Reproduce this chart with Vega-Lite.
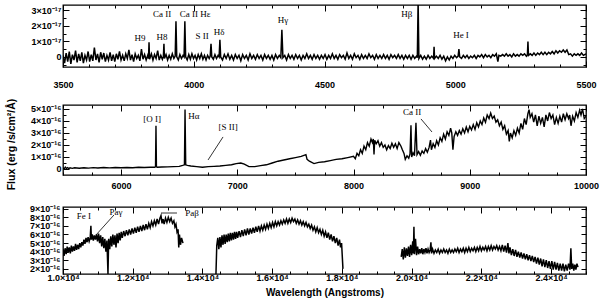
{
"$schema":"https://vega.github.io/schema/vega-lite/v6.json",
"padding":{"left":5,"top":3,"right":5,"bottom":3},
"background":"white",
"config":{"view":{"stroke":"black","strokeWidth":1.3},
"axis":{"domain":false,"grid":false,"labelFont":"Liberation Sans","labelFontWeight":"bold","labelFontSize":9,"labelColor":"black","tickColor":"black","tickWidth":1,"titleFont":"Liberation Sans","titleFontWeight":"bold","titleFontSize":10,"titleColor":"black","labelOverlap":false,"labelFlush":false},
"text":{"font":"Liberation Serif","fontSize":9,"color":"black"}},
"datasets":{
"s1":[{"w":3500,"f":0.1},{"w":3506,"f":-0.4},{"w":3512,"f":0.25},{"w":3518,"f":-0.3},{"w":3524,"f":0.35},{"w":3530,"f":-0.45},{"w":3536,"f":0.15},{"w":3542,"f":-0.2},{"w":3548,"f":0.4},{"w":3554,"f":-0.35},{"w":3560,"f":0.2},{"w":3566,"f":-0.25},{"w":3572,"f":0.3},{"w":3578,"f":-0.4},{"w":3584,"f":0.1},{"w":3590,"f":-0.2},{"w":3596,"f":0.35},{"w":3602,"f":-0.3},{"w":3608,"f":0.15},{"w":3614,"f":-0.25},{"w":3620,"f":0.6},{"w":3626,"f":-0.2},{"w":3632,"f":0.2},{"w":3638,"f":-0.35},{"w":3644,"f":0.3},{"w":3650,"f":-0.15},{"w":3656,"f":0.25},{"w":3662,"f":-0.3},{"w":3668,"f":0.1},{"w":3674,"f":-0.2},{"w":3680,"f":0.3},{"w":3686,"f":-0.25},{"w":3692,"f":0.15},{"w":3698,"f":-0.3},{"w":3704,"f":0.2},{"w":3710,"f":-0.15},{"w":3716,"f":0.35},{"w":3722,"f":-0.2},{"w":3728,"f":0.1},{"w":3734,"f":-0.25},{"w":3740,"f":0.2},{"w":3746,"f":-0.1},{"w":3752,"f":0.45},{"w":3758,"f":-0.2},{"w":3764,"f":0.15},{"w":3770,"f":-0.3},{"w":3776,"f":0.2},{"w":3782,"f":-0.1},{"w":3788,"f":0.1},{"w":3794,"f":-0.25},{"w":3800,"f":0.5},{"w":3806,"f":-0.15},{"w":3812,"f":0.15},{"w":3818,"f":-0.2},{"w":3824,"f":0.1},{"w":3827,"f":-0.1},{"w":3829,"f":0.95},{"w":3831,"f":-0.15},{"w":3838,"f":0.2},{"w":3844,"f":-0.2},{"w":3850,"f":0.15},{"w":3856,"f":-0.1},{"w":3862,"f":0.4},{"w":3868,"f":-0.2},{"w":3874,"f":0.1},{"w":3880,"f":-0.15},{"w":3884,"f":0.05},{"w":3886,"f":0.85},{"w":3888,"f":-0.1},{"w":3894,"f":0.15},{"w":3900,"f":-0.2},{"w":3906,"f":0.1},{"w":3912,"f":-0.15},{"w":3918,"f":0.2},{"w":3924,"f":-0.1},{"w":3929,"f":0.05},{"w":3932,"f":2.3},{"w":3935,"f":0.0},{"w":3941,"f":-0.2},{"w":3947,"f":0.15},{"w":3953,"f":-0.1},{"w":3959,"f":0.1},{"w":3963,"f":0.0},{"w":3966,"f":2.3},{"w":3969,"f":0.0},{"w":3975,"f":-0.2},{"w":3981,"f":0.15},{"w":3987,"f":-0.15},{"w":3993,"f":0.2},{"w":3999,"f":-0.1},{"w":4005,"f":0.1},{"w":4011,"f":-0.2},{"w":4017,"f":0.15},{"w":4023,"f":-0.1},{"w":4029,"f":0.2},{"w":4035,"f":-0.15},{"w":4041,"f":0.1},{"w":4047,"f":-0.2},{"w":4053,"f":0.1},{"w":4059,"f":-0.1},{"w":4063,"f":0.05},{"w":4066,"f":0.85},{"w":4069,"f":0.0},{"w":4075,"f":-0.15},{"w":4081,"f":0.15},{"w":4087,"f":-0.1},{"w":4093,"f":0.1},{"w":4097,"f":0.0},{"w":4100,"f":1.1},{"w":4103,"f":0.0},{"w":4110,"f":-0.2},{"w":4117,"f":0.15},{"w":4124,"f":-0.1},{"w":4131,"f":0.2},{"w":4138,"f":-0.15},{"w":4145,"f":0.1},{"w":4152,"f":-0.2},{"w":4159,"f":0.15},{"w":4166,"f":-0.1},{"w":4173,"f":0.1},{"w":4180,"f":-0.25},{"w":4187,"f":0.15},{"w":4194,"f":-0.1},{"w":4201,"f":0.1},{"w":4208,"f":-0.2},{"w":4215,"f":0.2},{"w":4222,"f":-0.1},{"w":4229,"f":0.1},{"w":4236,"f":-0.15},{"w":4243,"f":0.15},{"w":4250,"f":-0.1},{"w":4257,"f":0.1},{"w":4264,"f":-0.2},{"w":4271,"f":0.15},{"w":4278,"f":-0.1},{"w":4285,"f":0.1},{"w":4292,"f":-0.15},{"w":4299,"f":0.1},{"w":4306,"f":-0.2},{"w":4313,"f":0.15},{"w":4320,"f":-0.1},{"w":4327,"f":0.1},{"w":4333,"f":-0.05},{"w":4337,"f":1.75},{"w":4341,"f":-0.05},{"w":4348,"f":0.1},{"w":4355,"f":-0.2},{"w":4362,"f":0.15},{"w":4369,"f":-0.1},{"w":4376,"f":0.1},{"w":4383,"f":-0.15},{"w":4390,"f":0.15},{"w":4397,"f":-0.1},{"w":4404,"f":0.1},{"w":4411,"f":-0.2},{"w":4418,"f":0.1},{"w":4425,"f":-0.1},{"w":4432,"f":0.2},{"w":4439,"f":-0.1},{"w":4446,"f":0.1},{"w":4453,"f":-0.15},{"w":4460,"f":0.15},{"w":4467,"f":-0.1},{"w":4474,"f":0.1},{"w":4481,"f":-0.15},{"w":4488,"f":0.1},{"w":4495,"f":-0.1},{"w":4502,"f":0.15},{"w":4509,"f":-0.15},{"w":4516,"f":0.1},{"w":4523,"f":-0.1},{"w":4530,"f":0.2},{"w":4537,"f":-0.1},{"w":4544,"f":0.1},{"w":4551,"f":-0.15},{"w":4558,"f":0.15},{"w":4565,"f":-0.05},{"w":4572,"f":0.1},{"w":4579,"f":-0.15},{"w":4586,"f":0.25},{"w":4593,"f":-0.1},{"w":4600,"f":0.1},{"w":4607,"f":-0.15},{"w":4614,"f":0.2},{"w":4621,"f":-0.05},{"w":4628,"f":0.1},{"w":4635,"f":-0.15},{"w":4642,"f":0.15},{"w":4649,"f":-0.1},{"w":4656,"f":0.1},{"w":4663,"f":-0.1},{"w":4670,"f":0.2},{"w":4677,"f":-0.05},{"w":4684,"f":0.1},{"w":4691,"f":-0.15},{"w":4698,"f":0.15},{"w":4705,"f":-0.1},{"w":4712,"f":0.1},{"w":4719,"f":-0.1},{"w":4726,"f":0.15},{"w":4733,"f":-0.1},{"w":4740,"f":0.1},{"w":4747,"f":-0.15},{"w":4754,"f":0.15},{"w":4761,"f":-0.05},{"w":4768,"f":0.1},{"w":4775,"f":-0.1},{"w":4782,"f":0.15},{"w":4789,"f":-0.1},{"w":4796,"f":0.1},{"w":4803,"f":-0.15},{"w":4810,"f":0.1},{"w":4817,"f":-0.1},{"w":4824,"f":0.1},{"w":4831,"f":-0.15},{"w":4838,"f":0.1},{"w":4845,"f":-0.1},{"w":4852,"f":0.05},{"w":4855,"f":-0.05},{"w":4858,"f":3.6},{"w":4861,"f":-0.1},{"w":4868,"f":0.1},{"w":4875,"f":-0.15},{"w":4882,"f":0.05},{"w":4889,"f":-0.15},{"w":4896,"f":0.1},{"w":4903,"f":-0.1},{"w":4910,"f":0.05},{"w":4917,"f":-0.1},{"w":4919,"f":0.65},{"w":4921,"f":-0.1},{"w":4928,"f":0.05},{"w":4935,"f":-0.1},{"w":4942,"f":0.1},{"w":4949,"f":-0.15},{"w":4956,"f":0.05},{"w":4963,"f":-0.25},{"w":4970,"f":0.0},{"w":4977,"f":-0.2},{"w":4984,"f":0.05},{"w":4991,"f":-0.1},{"w":4998,"f":0.1},{"w":5005,"f":-0.05},{"w":5011,"f":0.05},{"w":5014,"f":0.5},{"w":5017,"f":0.0},{"w":5024,"f":-0.1},{"w":5031,"f":0.1},{"w":5038,"f":-0.05},{"w":5045,"f":0.1},{"w":5052,"f":-0.1},{"w":5059,"f":0.05},{"w":5066,"f":-0.05},{"w":5073,"f":0.1},{"w":5080,"f":-0.1},{"w":5087,"f":0.1},{"w":5094,"f":0.0},{"w":5101,"f":0.15},{"w":5108,"f":-0.05},{"w":5115,"f":0.15},{"w":5122,"f":0.0},{"w":5129,"f":0.1},{"w":5136,"f":-0.05},{"w":5143,"f":0.15},{"w":5150,"f":0.05},{"w":5157,"f":0.2},{"w":5163,"f":-0.3},{"w":5167,"f":0.1},{"w":5174,"f":0.05},{"w":5181,"f":0.15},{"w":5188,"f":0.05},{"w":5195,"f":0.2},{"w":5202,"f":0.05},{"w":5209,"f":0.15},{"w":5216,"f":0.0},{"w":5223,"f":0.2},{"w":5230,"f":0.05},{"w":5237,"f":0.15},{"w":5244,"f":0.05},{"w":5251,"f":0.2},{"w":5258,"f":0.1},{"w":5265,"f":0.2},{"w":5272,"f":0.05},{"w":5276,"f":0.15},{"w":5278,"f":1.0},{"w":5280,"f":0.1},{"w":5287,"f":0.2},{"w":5294,"f":0.1},{"w":5301,"f":0.25},{"w":5308,"f":0.1},{"w":5315,"f":0.25},{"w":5322,"f":0.15},{"w":5329,"f":0.3},{"w":5336,"f":0.15},{"w":5343,"f":0.3},{"w":5350,"f":0.15},{"w":5357,"f":0.3},{"w":5364,"f":0.2},{"w":5371,"f":0.35},{"w":5378,"f":0.2},{"w":5385,"f":0.4},{"w":5392,"f":0.25},{"w":5399,"f":0.4},{"w":5406,"f":0.3},{"w":5413,"f":0.45},{"w":5420,"f":0.3},{"w":5427,"f":0.45},{"w":5434,"f":0.15},{"w":5441,"f":0.2},{"w":5448,"f":0.05},{"w":5455,"f":0.2},{"w":5462,"f":0.1},{"w":5469,"f":0.2},{"w":5476,"f":0.1},{"w":5483,"f":0.25},{"w":5490,"f":0.1},{"w":5500,"f":0.2}],
"s2":[{"w":5500,"f":0.1},{"w":5510,"f":0.0},{"w":5520,"f":0.15},{"w":5530,"f":0.05},{"w":5540,"f":0.12},{"w":5550,"f":0.02},{"w":5560,"f":0.1},{"w":5580,"f":0.05},{"w":5600,"f":0.1},{"w":5640,"f":0.06},{"w":5680,"f":0.1},{"w":5720,"f":0.07},{"w":5760,"f":0.11},{"w":5800,"f":0.08},{"w":5850,"f":0.12},{"w":5900,"f":0.09},{"w":5950,"f":0.12},{"w":6000,"f":0.1},{"w":6050,"f":0.13},{"w":6100,"f":0.1},{"w":6150,"f":0.14},{"w":6200,"f":0.12},{"w":6250,"f":0.15},{"w":6290,"f":0.15},{"w":6296,"f":0.2},{"w":6300,"f":3.6},{"w":6304,"f":0.2},{"w":6310,"f":0.15},{"w":6350,"f":0.17},{"w":6400,"f":0.18},{"w":6450,"f":0.2},{"w":6500,"f":0.22},{"w":6530,"f":0.3},{"w":6545,"f":0.35},{"w":6550,"f":4.95},{"w":6556,"f":0.35},{"w":6570,"f":0.3},{"w":6600,"f":0.25},{"w":6650,"f":0.2},{"w":6700,"f":0.15},{"w":6750,"f":0.2},{"w":6800,"f":0.22},{"w":6850,"f":0.25},{"w":6900,"f":0.3},{"w":6950,"f":0.35},{"w":6990,"f":0.45},{"w":7030,"f":0.5},{"w":7060,"f":0.4},{"w":7100,"f":0.2},{"w":7150,"f":0.2},{"w":7200,"f":0.28},{"w":7250,"f":0.35},{"w":7300,"f":0.5},{"w":7350,"f":0.65},{"w":7400,"f":0.75},{"w":7450,"f":0.85},{"w":7500,"f":0.95},{"w":7550,"f":1.05},{"w":7590,"f":1.2},{"w":7600,"f":0.8},{"w":7620,"f":0.65},{"w":7660,"f":0.45},{"w":7700,"f":0.55},{"w":7750,"f":0.6},{"w":7800,"f":0.7},{"w":7850,"f":0.8},{"w":7900,"f":0.85},{"w":7950,"f":0.95},{"w":8000,"f":1.05},{"w":8015,"f":0.85},{"w":8030,"f":1.3},{"w":8045,"f":1.1},{"w":8060,"f":1.6},{"w":8075,"f":1.3},{"w":8090,"f":1.9},{"w":8105,"f":1.6},{"w":8120,"f":2.2},{"w":8135,"f":1.9},{"w":8150,"f":2.5},{"w":8162,"f":2.2},{"w":8170,"f":2.5},{"w":8176,"f":1.2},{"w":8182,"f":2.4},{"w":8195,"f":2.1},{"w":8210,"f":2.35},{"w":8225,"f":1.9},{"w":8240,"f":2.2},{"w":8255,"f":1.8},{"w":8270,"f":2.0},{"w":8285,"f":1.6},{"w":8300,"f":1.95},{"w":8315,"f":1.7},{"w":8330,"f":2.15},{"w":8345,"f":1.8},{"w":8360,"f":2.1},{"w":8375,"f":1.7},{"w":8390,"f":2.2},{"w":8408,"f":1.9},{"w":8420,"f":1.6},{"w":8434,"f":1.3},{"w":8445,"f":0.8},{"w":8460,"f":1.1},{"w":8475,"f":0.9},{"w":8486,"f":1.25},{"w":8494,"f":3.65},{"w":8500,"f":1.0},{"w":8512,"f":1.35},{"w":8524,"f":1.1},{"w":8537,"f":3.85},{"w":8546,"f":1.2},{"w":8560,"f":1.45},{"w":8575,"f":1.15},{"w":8590,"f":1.5},{"w":8605,"f":1.3},{"w":8620,"f":1.7},{"w":8635,"f":1.4},{"w":8650,"f":1.8},{"w":8662,"f":2.4},{"w":8670,"f":1.6},{"w":8685,"f":2.1},{"w":8700,"f":1.8},{"w":8715,"f":2.35},{"w":8730,"f":2.0},{"w":8745,"f":2.6},{"w":8760,"f":2.3},{"w":8775,"f":2.9},{"w":8790,"f":2.5},{"w":8805,"f":3.1},{"w":8820,"f":2.8},{"w":8835,"f":3.4},{"w":8845,"f":3.0},{"w":8855,"f":1.6},{"w":8865,"f":2.7},{"w":8880,"f":3.1},{"w":8895,"f":2.8},{"w":8910,"f":3.2},{"w":8925,"f":2.9},{"w":8940,"f":3.35},{"w":8955,"f":3.0},{"w":8970,"f":3.5},{"w":8985,"f":3.1},{"w":9000,"f":3.55},{"w":9015,"f":3.25},{"w":9030,"f":3.7},{"w":9045,"f":3.3},{"w":9060,"f":3.85},{"w":9075,"f":3.5},{"w":9090,"f":4.0},{"w":9105,"f":3.7},{"w":9120,"f":4.25},{"w":9135,"f":3.9},{"w":9150,"f":4.5},{"w":9166,"f":4.2},{"w":9180,"f":4.65},{"w":9195,"f":4.2},{"w":9210,"f":4.4},{"w":9225,"f":3.9},{"w":9240,"f":4.1},{"w":9255,"f":3.6},{"w":9270,"f":3.9},{"w":9285,"f":3.3},{"w":9300,"f":3.6},{"w":9315,"f":2.9},{"w":9330,"f":3.2},{"w":9340,"f":2.3},{"w":9350,"f":3.0},{"w":9365,"f":2.6},{"w":9380,"f":3.2},{"w":9395,"f":2.8},{"w":9410,"f":3.4},{"w":9425,"f":3.0},{"w":9440,"f":3.8},{"w":9455,"f":3.3},{"w":9470,"f":4.2},{"w":9485,"f":3.7},{"w":9500,"f":4.6},{"w":9510,"f":4.95},{"w":9520,"f":4.3},{"w":9535,"f":4.6},{"w":9550,"f":3.9},{"w":9565,"f":4.5},{"w":9580,"f":3.6},{"w":9595,"f":4.4},{"w":9610,"f":3.8},{"w":9625,"f":4.3},{"w":9640,"f":3.5},{"w":9655,"f":4.5},{"w":9670,"f":4.0},{"w":9685,"f":4.7},{"w":9700,"f":4.2},{"w":9715,"f":4.5},{"w":9730,"f":3.7},{"w":9745,"f":4.3},{"w":9760,"f":3.8},{"w":9775,"f":4.4},{"w":9790,"f":3.9},{"w":9805,"f":4.6},{"w":9820,"f":4.1},{"w":9835,"f":4.6},{"w":9850,"f":4.2},{"w":9860,"f":4.5},{"w":9871,"f":3.6},{"w":9885,"f":4.4},{"w":9900,"f":4.0},{"w":9915,"f":4.7},{"w":9930,"f":4.3},{"w":9945,"f":4.9},{"w":9957,"f":4.5},{"w":9970,"f":5.0},{"w":9985,"f":4.2},{"w":10000,"f":4.4}],
"s3":[{"s":1,"w":10000,"f":4.3},{"s":1,"w":10030,"f":3.5},{"s":1,"w":10060,"f":4.4},{"s":1,"w":10090,"f":3.7},{"s":1,"w":10120,"f":4.6},{"s":1,"w":10150,"f":3.9},{"s":1,"w":10180,"f":4.5},{"s":1,"w":10210,"f":3.8},{"s":1,"w":10240,"f":4.7},{"s":1,"w":10270,"f":4.0},{"s":1,"w":10300,"f":4.6},{"s":1,"w":10330,"f":4.1},{"s":1,"w":10360,"f":4.9},{"s":1,"w":10390,"f":4.2},{"s":1,"w":10420,"f":4.8},{"s":1,"w":10450,"f":4.3},{"s":1,"w":10480,"f":5.0},{"s":1,"w":10510,"f":4.5},{"s":1,"w":10540,"f":5.1},{"s":1,"w":10570,"f":4.7},{"s":1,"w":10600,"f":5.4},{"s":1,"w":10630,"f":4.9},{"s":1,"w":10660,"f":5.6},{"s":1,"w":10690,"f":5.1},{"s":1,"w":10720,"f":5.7},{"s":1,"w":10750,"f":5.2},{"s":1,"w":10780,"f":5.6},{"s":1,"w":10800,"f":7.0},{"s":1,"w":10815,"f":5.4},{"s":1,"w":10840,"f":6.0},{"s":1,"w":10870,"f":5.3},{"s":1,"w":10900,"f":5.9},{"s":1,"w":10930,"f":5.4},{"s":1,"w":10960,"f":6.0},{"s":1,"w":10990,"f":5.2},{"s":1,"w":11020,"f":6.1},{"s":1,"w":11050,"f":5.0},{"s":1,"w":11080,"f":5.9},{"s":1,"w":11110,"f":4.6},{"s":1,"w":11140,"f":5.7},{"s":1,"w":11170,"f":4.4},{"s":1,"w":11200,"f":5.5},{"s":1,"w":11230,"f":4.0},{"s":1,"w":11260,"f":5.3},{"s":1,"w":11290,"f":1.4},{"s":1,"w":11310,"f":5.5},{"s":1,"w":11340,"f":4.3},{"s":1,"w":11370,"f":5.8},{"s":1,"w":11400,"f":4.6},{"s":1,"w":11430,"f":6.0},{"s":1,"w":11460,"f":4.8},{"s":1,"w":11490,"f":5.9},{"s":1,"w":11520,"f":4.5},{"s":1,"w":11550,"f":6.1},{"s":1,"w":11580,"f":5.0},{"s":1,"w":11610,"f":6.2},{"s":1,"w":11640,"f":5.3},{"s":1,"w":11670,"f":6.3},{"s":1,"w":11700,"f":5.6},{"s":1,"w":11740,"f":6.4},{"s":1,"w":11780,"f":5.8},{"s":1,"w":11820,"f":6.5},{"s":1,"w":11860,"f":5.9},{"s":1,"w":11900,"f":6.6},{"s":1,"w":11940,"f":6.0},{"s":1,"w":11980,"f":6.7},{"s":1,"w":12020,"f":6.1},{"s":1,"w":12060,"f":6.8},{"s":1,"w":12100,"f":6.2},{"s":1,"w":12140,"f":6.9},{"s":1,"w":12180,"f":6.3},{"s":1,"w":12220,"f":7.0},{"s":1,"w":12260,"f":6.4},{"s":1,"w":12300,"f":7.1},{"s":1,"w":12340,"f":6.5},{"s":1,"w":12380,"f":7.2},{"s":1,"w":12420,"f":6.6},{"s":1,"w":12460,"f":7.3},{"s":1,"w":12500,"f":6.8},{"s":1,"w":12540,"f":7.5},{"s":1,"w":12580,"f":7.0},{"s":1,"w":12620,"f":7.6},{"s":1,"w":12660,"f":7.1},{"s":1,"w":12700,"f":7.8},{"s":1,"w":12740,"f":7.2},{"s":1,"w":12780,"f":7.9},{"s":1,"w":12810,"f":8.2},{"s":1,"w":12840,"f":7.3},{"s":1,"w":12870,"f":7.8},{"s":1,"w":12900,"f":7.2},{"s":1,"w":12940,"f":7.9},{"s":1,"w":12980,"f":7.4},{"s":1,"w":13020,"f":8.0},{"s":1,"w":13060,"f":7.5},{"s":1,"w":13100,"f":7.9},{"s":1,"w":13140,"f":7.3},{"s":1,"w":13180,"f":7.6},{"s":1,"w":13210,"f":6.9},{"s":1,"w":13240,"f":7.2},{"s":1,"w":13270,"f":6.3},{"s":1,"w":13300,"f":6.6},{"s":1,"w":13320,"f":4.5},{"s":1,"w":13340,"f":6.0},{"s":1,"w":13370,"f":4.8},{"s":1,"w":13400,"f":5.6},{"s":1,"w":13441,"f":5.0},
{"s":2,"w":14387,"f":1.4},{"s":2,"w":14410,"f":4.7},{"s":2,"w":14440,"f":5.6},{"s":2,"w":14470,"f":4.3},{"s":2,"w":14500,"f":5.7},{"s":2,"w":14530,"f":4.5},{"s":2,"w":14560,"f":5.9},{"s":2,"w":14590,"f":4.8},{"s":2,"w":14620,"f":6.0},{"s":2,"w":14650,"f":4.9},{"s":2,"w":14680,"f":6.0},{"s":2,"w":14710,"f":5.1},{"s":2,"w":14740,"f":6.1},{"s":2,"w":14770,"f":5.2},{"s":2,"w":14800,"f":6.2},{"s":2,"w":14830,"f":5.3},{"s":2,"w":14860,"f":6.2},{"s":2,"w":14890,"f":5.4},{"s":2,"w":14920,"f":6.3},{"s":2,"w":14950,"f":5.5},{"s":2,"w":14980,"f":6.3},{"s":2,"w":15010,"f":5.6},{"s":2,"w":15050,"f":6.4},{"s":2,"w":15090,"f":5.7},{"s":2,"w":15130,"f":6.5},{"s":2,"w":15170,"f":5.8},{"s":2,"w":15210,"f":6.6},{"s":2,"w":15250,"f":5.9},{"s":2,"w":15290,"f":6.7},{"s":2,"w":15330,"f":6.0},{"s":2,"w":15370,"f":6.7},{"s":2,"w":15410,"f":6.1},{"s":2,"w":15450,"f":6.8},{"s":2,"w":15490,"f":6.2},{"s":2,"w":15530,"f":6.9},{"s":2,"w":15570,"f":6.3},{"s":2,"w":15610,"f":7.0},{"s":2,"w":15650,"f":6.4},{"s":2,"w":15690,"f":7.0},{"s":2,"w":15730,"f":6.5},{"s":2,"w":15770,"f":7.1},{"s":2,"w":15810,"f":6.6},{"s":2,"w":15850,"f":7.2},{"s":2,"w":15890,"f":6.7},{"s":2,"w":15930,"f":7.3},{"s":2,"w":15970,"f":6.8},{"s":2,"w":16010,"f":7.4},{"s":2,"w":16050,"f":6.9},{"s":2,"w":16090,"f":7.5},{"s":2,"w":16130,"f":7.0},{"s":2,"w":16170,"f":7.5},{"s":2,"w":16210,"f":7.1},{"s":2,"w":16250,"f":7.6},{"s":2,"w":16290,"f":7.2},{"s":2,"w":16330,"f":7.7},{"s":2,"w":16370,"f":7.3},{"s":2,"w":16410,"f":7.8},{"s":2,"w":16450,"f":7.3},{"s":2,"w":16490,"f":7.8},{"s":2,"w":16530,"f":7.4},{"s":2,"w":16570,"f":7.9},{"s":2,"w":16610,"f":7.5},{"s":2,"w":16650,"f":7.8},{"s":2,"w":16690,"f":7.3},{"s":2,"w":16730,"f":7.7},{"s":2,"w":16770,"f":7.2},{"s":2,"w":16810,"f":7.6},{"s":2,"w":16850,"f":7.1},{"s":2,"w":16890,"f":7.5},{"s":2,"w":16930,"f":7.0},{"s":2,"w":16970,"f":7.4},{"s":2,"w":17010,"f":6.9},{"s":2,"w":17050,"f":7.2},{"s":2,"w":17090,"f":6.7},{"s":2,"w":17130,"f":7.1},{"s":2,"w":17170,"f":6.5},{"s":2,"w":17210,"f":6.9},{"s":2,"w":17250,"f":6.3},{"s":2,"w":17290,"f":6.8},{"s":2,"w":17330,"f":6.2},{"s":2,"w":17370,"f":6.6},{"s":2,"w":17410,"f":6.0},{"s":2,"w":17450,"f":6.5},{"s":2,"w":17490,"f":5.8},{"s":2,"w":17530,"f":6.3},{"s":2,"w":17570,"f":5.6},{"s":2,"w":17610,"f":6.2},{"s":2,"w":17650,"f":5.4},{"s":2,"w":17690,"f":6.0},{"s":2,"w":17730,"f":5.2},{"s":2,"w":17770,"f":5.8},{"s":2,"w":17810,"f":5.0},{"s":2,"w":17850,"f":5.6},{"s":2,"w":17890,"f":4.7},{"s":2,"w":17930,"f":5.4},{"s":2,"w":17960,"f":4.5},{"s":2,"w":17990,"f":5.0},{"s":2,"w":18029,"f":2.0},
{"s":3,"w":19700,"f":3.4},{"s":3,"w":19730,"f":4.3},{"s":3,"w":19760,"f":3.1},{"s":3,"w":19790,"f":4.5},{"s":3,"w":19820,"f":3.3},{"s":3,"w":19850,"f":4.4},{"s":3,"w":19880,"f":3.5},{"s":3,"w":19910,"f":4.6},{"s":3,"w":19940,"f":3.4},{"s":3,"w":19970,"f":4.8},{"s":3,"w":20000,"f":3.6},{"s":3,"w":20030,"f":5.2},{"s":3,"w":20050,"f":3.8},{"s":3,"w":20065,"f":6.9},{"s":3,"w":20080,"f":3.7},{"s":3,"w":20110,"f":5.5},{"s":3,"w":20140,"f":3.6},{"s":3,"w":20170,"f":4.6},{"s":3,"w":20200,"f":3.7},{"s":3,"w":20230,"f":4.3},{"s":3,"w":20260,"f":3.8},{"s":3,"w":20290,"f":4.4},{"s":3,"w":20320,"f":3.7},{"s":3,"w":20350,"f":4.3},{"s":3,"w":20380,"f":3.9},{"s":3,"w":20410,"f":4.4},{"s":3,"w":20440,"f":3.8},{"s":3,"w":20470,"f":4.3},{"s":3,"w":20500,"f":3.9},{"s":3,"w":20530,"f":4.2},{"s":3,"w":20552,"f":5.1},{"s":3,"w":20570,"f":3.8},{"s":3,"w":20600,"f":4.3},{"s":3,"w":20640,"f":3.8},{"s":3,"w":20680,"f":4.2},{"s":3,"w":20720,"f":3.9},{"s":3,"w":20760,"f":4.3},{"s":3,"w":20800,"f":3.8},{"s":3,"w":20840,"f":4.2},{"s":3,"w":20880,"f":3.9},{"s":3,"w":20920,"f":4.3},{"s":3,"w":20960,"f":3.9},{"s":3,"w":21000,"f":4.2},{"s":3,"w":21040,"f":3.8},{"s":3,"w":21080,"f":4.3},{"s":3,"w":21120,"f":3.9},{"s":3,"w":21160,"f":4.2},{"s":3,"w":21200,"f":3.9},{"s":3,"w":21240,"f":4.3},{"s":3,"w":21280,"f":4.0},{"s":3,"w":21320,"f":4.4},{"s":3,"w":21360,"f":3.9},{"s":3,"w":21400,"f":4.3},{"s":3,"w":21440,"f":4.0},{"s":3,"w":21480,"f":4.4},{"s":3,"w":21520,"f":3.9},{"s":3,"w":21560,"f":4.4},{"s":3,"w":21600,"f":4.0},{"s":3,"w":21640,"f":4.5},{"s":3,"w":21680,"f":4.0},{"s":3,"w":21720,"f":4.4},{"s":3,"w":21760,"f":4.1},{"s":3,"w":21800,"f":4.5},{"s":3,"w":21840,"f":4.0},{"s":3,"w":21880,"f":4.5},{"s":3,"w":21920,"f":4.1},{"s":3,"w":21960,"f":4.6},{"s":3,"w":22000,"f":4.1},{"s":3,"w":22040,"f":4.5},{"s":3,"w":22080,"f":4.2},{"s":3,"w":22120,"f":4.6},{"s":3,"w":22160,"f":4.1},{"s":3,"w":22200,"f":4.6},{"s":3,"w":22240,"f":4.2},{"s":3,"w":22280,"f":4.7},{"s":3,"w":22320,"f":4.2},{"s":3,"w":22360,"f":4.6},{"s":3,"w":22400,"f":4.3},{"s":3,"w":22440,"f":4.7},{"s":3,"w":22480,"f":4.2},{"s":3,"w":22520,"f":4.6},{"s":3,"w":22560,"f":4.1},{"s":3,"w":22600,"f":4.8},{"s":3,"w":22640,"f":4.0},{"s":3,"w":22680,"f":4.7},{"s":3,"w":22720,"f":3.9},{"s":3,"w":22760,"f":5.0},{"s":3,"w":22790,"f":3.8},{"s":3,"w":22820,"f":4.5},{"s":3,"w":22860,"f":3.6},{"s":3,"w":22900,"f":4.3},{"s":3,"w":22940,"f":3.5},{"s":3,"w":22980,"f":4.2},{"s":3,"w":23020,"f":3.4},{"s":3,"w":23060,"f":4.0},{"s":3,"w":23100,"f":3.3},{"s":3,"w":23140,"f":3.9},{"s":3,"w":23180,"f":3.2},{"s":3,"w":23220,"f":3.8},{"s":3,"w":23260,"f":3.1},{"s":3,"w":23300,"f":3.7},{"s":3,"w":23340,"f":3.0},{"s":3,"w":23380,"f":3.6},{"s":3,"w":23420,"f":2.9},{"s":3,"w":23460,"f":3.5},{"s":3,"w":23500,"f":2.8},{"s":3,"w":23540,"f":3.4},{"s":3,"w":23580,"f":2.6},{"s":3,"w":23620,"f":3.3},{"s":3,"w":23660,"f":2.5},{"s":3,"w":23700,"f":3.2},{"s":3,"w":23740,"f":2.3},{"s":3,"w":23780,"f":3.1},{"s":3,"w":23820,"f":2.2},{"s":3,"w":23860,"f":3.0},{"s":3,"w":23900,"f":2.1},{"s":3,"w":23940,"f":2.9},{"s":3,"w":23980,"f":2.0},{"s":3,"w":24020,"f":2.9},{"s":3,"w":24060,"f":1.9},{"s":3,"w":24100,"f":2.8},{"s":3,"w":24140,"f":1.9},{"s":3,"w":24180,"f":2.7},{"s":3,"w":24220,"f":1.8},{"s":3,"w":24260,"f":2.6},{"s":3,"w":24300,"f":1.8},{"s":3,"w":24340,"f":2.6},{"s":3,"w":24380,"f":1.7},{"s":3,"w":24420,"f":2.5},{"s":3,"w":24460,"f":1.8},{"s":3,"w":24500,"f":2.6},{"s":3,"w":24540,"f":1.9},{"s":3,"w":24566,"f":4.4},{"s":3,"w":24590,"f":2.0},{"s":3,"w":24620,"f":2.6},{"s":3,"w":24650,"f":1.8},{"s":3,"w":24680,"f":2.5},{"s":3,"w":24710,"f":1.9},{"s":3,"w":24740,"f":2.6},{"s":3,"w":24770,"f":2.2}],
"a1":[{"w":3794,"f":1.22,"t":"H9"},{"w":3879,"f":1.28,"t":"H8"},{"w":3879,"f":2.77,"t":"Ca II"},{"w":4005,"f":2.77,"t":"Ca II Hε"},{"w":4032,"f":1.35,"t":"S II"},{"w":4097,"f":1.6,"t":"Hδ"},{"w":4341,"f":2.38,"t":"Hγ"},{"w":4815,"f":2.77,"t":"Hβ"},{"w":5022,"f":1.41,"t":"He I"}],
"a2":[{"w":6266,"f":4.17,"t":"[O I]"},{"w":6627,"f":4.42,"t":"Hα"},{"w":6920,"f":3.5,"t":"[S II]"},{"w":8503,"f":4.75,"t":"Ca II"}],
"r2":[{"w":6748,"f":0.75,"w2":6877,"f2":2.67},{"w":8580,"f":4.17,"w2":8675,"f2":3.08}],
"a3":[{"w":10602,"f":8.15,"t":"Fe I"},{"w":11520,"f":8.62,"t":"Paγ"},{"w":13700,"f":8.5,"t":"Paβ"}],
"r3":[{"w":11462,"f":8.27,"w2":10946,"f2":5.94},{"w":12810,"f":8.5,"w2":13269,"f2":8.5}]
},
"spacing":38,
"bounds":"flush",
"vconcat":[
{"width":523,"height":62,
"resolve":{"axis":{"x":"independent","y":"independent"}},
"layer":[
{"data":{"name":"s1"},"mark":{"type":"line","color":"black","strokeWidth":1.5,"clip":true},
"encoding":{
"x":{"field":"w","type":"quantitative","scale":{"domain":[3500,5500],"nice":false,"zero":false},
"axis":{"orient":"bottom","title":null,"values":[3500,3600,3700,3800,3900,4000,4100,4200,4300,4400,4500,4600,4700,4800,4900,5000,5100,5200,5300,5400,5500],"labelExpr":"datum.value % 500 === 0 ? format(datum.value,'d') : ''","tickSize":{"condition":{"test":"datum.value % 500 === 0","value":-6},"value":-3},"labelPadding":19}},
"y":{"field":"f","type":"quantitative","scale":{"domain":[-0.65,3.35],"nice":false,"zero":false},
"axis":{"orient":"left","title":null,"values":[-0.5,0,0.5,1,1.5,2,2.5,3],"labelExpr":"datum.value % 1 !== 0 ? '' : (datum.value === 0 ? '0' : datum.value + '×10⁻¹⁷')","tickSize":{"condition":{"test":"datum.value % 1 === 0","value":-6},"value":-3},"labelPadding":8}}}},
{"data":{"name":"a1"},"mark":{"type":"text"},
"encoding":{
"x":{"field":"w","type":"quantitative","axis":{"orient":"top","title":null,"labels":false,"values":[3500,3600,3700,3800,3900,4000,4100,4200,4300,4400,4500,4600,4700,4800,4900,5000,5100,5200,5300,5400,5500],"tickSize":{"condition":{"test":"datum.value % 500 === 0","value":-6},"value":-3}}},
"y":{"field":"f","type":"quantitative","axis":{"orient":"right","title":null,"labels":false,"values":[-0.5,0,0.5,1,1.5,2,2.5,3],"tickSize":{"condition":{"test":"datum.value % 1 === 0","value":-6},"value":-3}}},
"text":{"field":"t"}}}
]},
{"vconcat":[
{"width":523,"height":70,
"resolve":{"axis":{"x":"independent","y":"independent"}},
"layer":[
{"data":{"name":"s2"},"mark":{"type":"line","color":"black","strokeWidth":1.4,"clip":true},
"encoding":{
"x":{"field":"w","type":"quantitative","scale":{"domain":[5500,10000],"nice":false,"zero":false},
"axis":{"orient":"bottom","title":null,"values":[5500,5750,6000,6250,6500,6750,7000,7250,7500,7750,8000,8250,8500,8750,9000,9250,9500,9750,10000],"labelExpr":"datum.value % 1000 === 0 ? format(datum.value,'d') : ''","tickSize":{"condition":{"test":"datum.value % 1000 === 0","value":-6},"value":-3},"labelPadding":12}},
"y":{"field":"f","type":"quantitative","scale":{"domain":[-0.5,5.33],"nice":false,"zero":false},
"axis":{"orient":"left","values":[0,0.5,1,1.5,2,2.5,3,3.5,4,4.5,5],"labelExpr":"datum.value % 1 !== 0 ? '' : (datum.value === 0 ? '0' : datum.value + '×10⁻¹⁶')","tickSize":{"condition":{"test":"datum.value % 1 === 0","value":-6},"value":-3},"labelPadding":8,
"title":"Flux (erg /s/cm²/Å)","titleFontSize":10.5,"titleAngle":270,"titleAlign":"center","titleBaseline":"bottom","titleX":-47,"titleY":39}}}},
{"data":{"name":"r2"},"mark":{"type":"rule","color":"black","strokeWidth":0.8},
"encoding":{"x":{"field":"w","type":"quantitative","axis":null},"y":{"field":"f","type":"quantitative","axis":null},"x2":{"field":"w2"},"y2":{"field":"f2"}}},
{"data":{"name":"a2"},"mark":{"type":"text"},
"encoding":{
"x":{"field":"w","type":"quantitative","axis":{"orient":"top","title":null,"labels":false,"values":[5500,5750,6000,6250,6500,6750,7000,7250,7500,7750,8000,8250,8500,8750,9000,9250,9500,9750,10000],"tickSize":{"condition":{"test":"datum.value % 1000 === 0","value":-6},"value":-3}}},
"y":{"field":"f","type":"quantitative","axis":{"orient":"right","title":null,"labels":false,"values":[0,0.5,1,1.5,2,2.5,3,3.5,4,4.5,5],"tickSize":{"condition":{"test":"datum.value % 1 === 0","value":-6},"value":-3}}},
"text":{"field":"t"}}}
]},
{"width":523,"height":67,
"resolve":{"axis":{"x":"independent","y":"independent"}},
"layer":[
{"data":{"name":"s3"},"mark":{"type":"line","color":"black","strokeWidth":1.5,"clip":true},
"encoding":{
"detail":{"field":"s","type":"nominal"},
"x":{"field":"w","type":"quantitative","scale":{"domain":[10000,25000],"nice":false,"zero":false},
"axis":{"orient":"bottom","title":"Wavelength (Angstroms)","titlePadding":2,"values":[10000,10500,11000,11500,12000,12500,13000,13500,14000,14500,15000,15500,16000,16500,17000,17500,18000,18500,19000,19500,20000,20500,21000,21500,22000,22500,23000,23500,24000,24500,25000],"labelExpr":"datum.value % 2000 === 0 && datum.value < 25000 ? format(datum.value/10000,'.1f') + '×10⁴' : ''","tickSize":{"condition":{"test":"datum.value % 2000 === 0","value":-6},"value":-3},"labelPadding":5}},
"y":{"field":"f","type":"quantitative","scale":{"domain":[1.4,9.2],"nice":false,"zero":false},
"axis":{"orient":"left","title":null,"values":[2,3,4,5,6,7,8,9],"labelExpr":"datum.value + '×10⁻¹⁶'","tickSize":-5,"labelPadding":8}}}},
{"data":{"name":"r3"},"mark":{"type":"rule","color":"black","strokeWidth":0.8},
"encoding":{"x":{"field":"w","type":"quantitative","axis":null},"y":{"field":"f","type":"quantitative","axis":null},"x2":{"field":"w2"},"y2":{"field":"f2"}}},
{"data":{"name":"a3"},"mark":{"type":"text"},
"encoding":{
"x":{"field":"w","type":"quantitative","axis":{"orient":"top","title":null,"labels":false,"values":[10000,10500,11000,11500,12000,12500,13000,13500,14000,14500,15000,15500,16000,16500,17000,17500,18000,18500,19000,19500,20000,20500,21000,21500,22000,22500,23000,23500,24000,24500,25000],"tickSize":{"condition":{"test":"datum.value % 2000 === 0","value":-6},"value":-3}}},
"y":{"field":"f","type":"quantitative","axis":{"orient":"right","title":null,"labels":false,"values":[2,3,4,5,6,7,8,9],"tickSize":-5}},
"text":{"field":"t"}}}
]}
],"spacing":32,"bounds":"flush"}
]
}
